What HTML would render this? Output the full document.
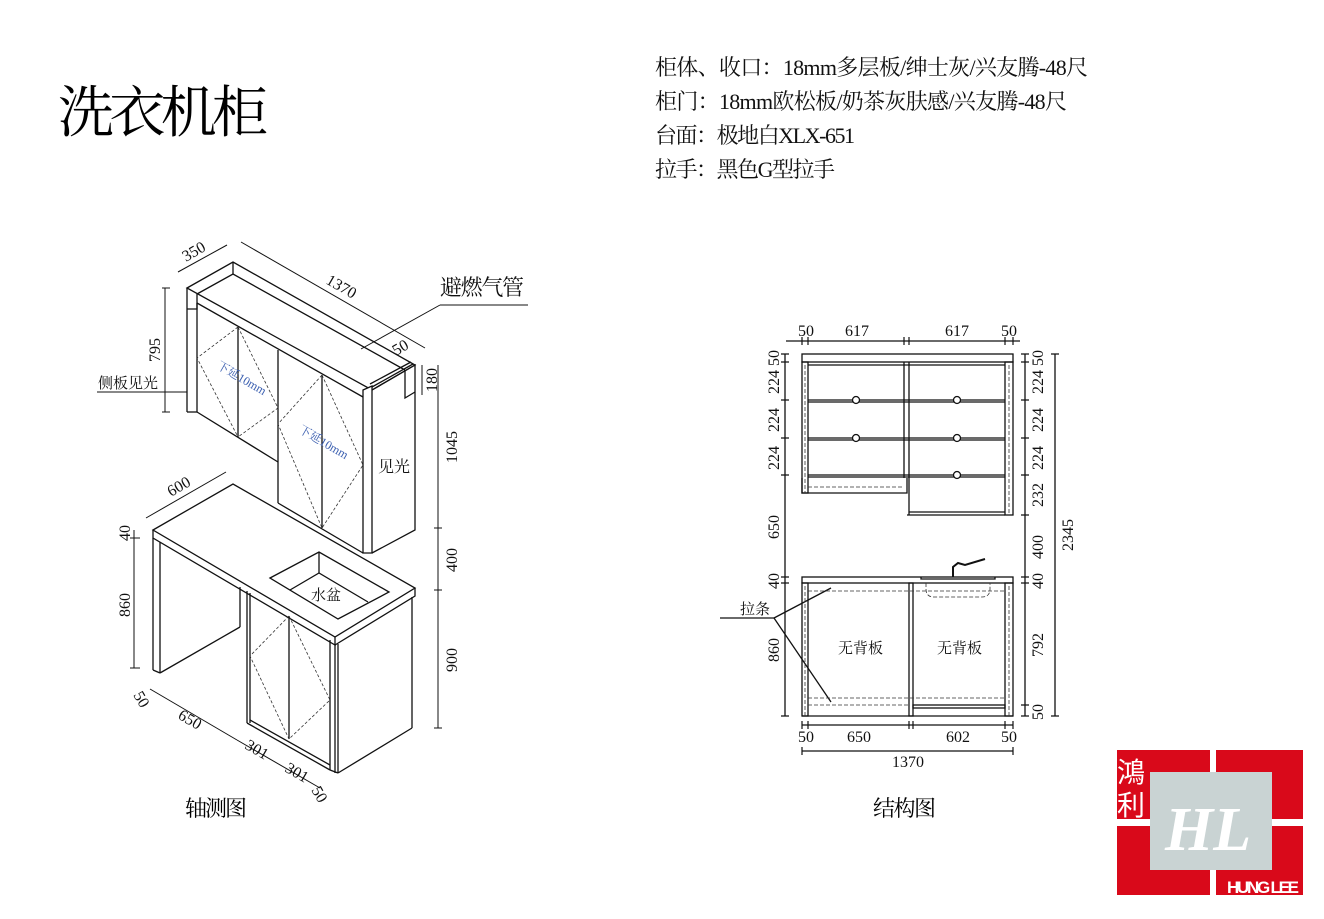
<!DOCTYPE html>
<html><head><meta charset="utf-8"><style>
html,body{margin:0;padding:0;background:#fff;}
svg{display:block;font-family:"Liberation Serif","Noto Serif CJK SC",serif;}
</style></head><body>
<svg width="1324" height="919" viewBox="0 0 1324 919" xmlns="http://www.w3.org/2000/svg">
<rect width="1324" height="919" fill="#fff"/>
<!-- Titles -->
<text x="58" y="132" font-size="56" font-family="Liberation Serif,Noto Serif CJK SC,serif" textLength="210">洗衣机柜</text>
<g font-size="22" fill="#111">
<text x="655" y="75" textLength="433">柜体、收口：18mm多层板/绅士灰/兴友腾-48尺</text>
<text x="655" y="109" textLength="412">柜门：18mm欧松板/奶茶灰肤感/兴友腾-48尺</text>
<text x="655" y="143" textLength="200">台面：极地白XLX-651</text>
<text x="655" y="177" textLength="180">拉手：黑色G型拉手</text>
</g>
<text x="185" y="816" font-size="22" textLength="62">轴测图</text>
<text x="873" y="816" font-size="22" textLength="63">结构图</text>

<!-- ===== Axonometric ===== -->
<g stroke="#111" stroke-width="1.3" fill="none">
<polygon points="187,288 233,262 415,365 372,390" fill="#fff"/>
<polyline points="197,294 233,274 405,370"/>
<line x1="233" y1="262" x2="233" y2="274"/>
<polyline points="197,294 197,309 187,309"/>
<line x1="197" y1="303" x2="363" y2="397"/>
<line x1="187" y1="288" x2="187" y2="412"/>
<line x1="197" y1="303" x2="197" y2="412"/>
<line x1="187" y1="412" x2="197" y2="412"/>
<polyline points="197,412 278,462"/>
<line x1="238" y1="327" x2="238" y2="437"/>
<line x1="278" y1="350" x2="278" y2="503"/>
<line x1="322" y1="375" x2="322" y2="528"/>
<line x1="278" y1="503" x2="363" y2="553"/>
<polygon points="363,390 372,386 372,553 363,553" fill="#fff"/>
<polyline points="372,390 415,365 415,530 372,553"/>
<line x1="372" y1="387" x2="413" y2="364"/>
<line x1="370" y1="384" x2="411" y2="362"/>
<polyline points="405,370 405,398 415,392"/>
<polygon points="153,530 233,484 415,588 335,637" fill="#fff"/>
<polyline points="153,530 153,538 335,645 335,637"/>
<polyline points="335,645 415,596 415,588"/>
<polygon points="270,578 319,552 389,592 338,619"/>
<polyline points="290,590 319,573 368,602"/>
<line x1="319" y1="552" x2="319" y2="573"/>
<line x1="153" y1="538" x2="153" y2="670"/>
<line x1="160" y1="542" x2="160" y2="673"/>
<line x1="153" y1="670" x2="160" y2="673"/>
<line x1="160" y1="673" x2="240" y2="627"/>
<line x1="240" y1="587" x2="240" y2="627"/>
<line x1="247" y1="591" x2="247" y2="723"/>
<line x1="250" y1="593" x2="250" y2="723"/>
<line x1="289" y1="616" x2="289" y2="739"/>
<line x1="247" y1="723" x2="330" y2="770"/>
<line x1="250" y1="720" x2="330" y2="765"/>
<line x1="330" y1="640" x2="330" y2="770"/>
<line x1="335" y1="645" x2="335" y2="773"/>
<line x1="338" y1="644" x2="338" y2="773"/>
<line x1="330" y1="770" x2="338" y2="773"/>
<line x1="338" y1="773" x2="412" y2="728"/>
<line x1="412" y1="597" x2="412" y2="728"/>
</g>
<g stroke="#333" stroke-width="0.8" stroke-dasharray="3,2" fill="none">
<polyline points="238,327 197,358 238,437"/>
<polyline points="238,327 278,408 238,437"/>
<polyline points="322,375 278,424 322,528"/>
<polyline points="322,375 363,465 322,528"/>
<polyline points="289,616 250,656 289,739"/>
<polyline points="289,616 330,700 289,739"/>
</g>
<g stroke="#111" stroke-width="1" fill="none">
<line x1="178" y1="272" x2="227" y2="245"/>
<line x1="241" y1="242" x2="425" y2="348"/>
<line x1="165" y1="288" x2="165" y2="412"/>
<line x1="162" y1="288" x2="170" y2="288"/><line x1="162" y1="412" x2="170" y2="412"/>
<line x1="97" y1="392" x2="187" y2="392"/>
<line x1="422" y1="365" x2="422" y2="395"/>
<line x1="438" y1="365" x2="438" y2="728"/>
<line x1="434" y1="528" x2="442" y2="528"/><line x1="434" y1="590" x2="442" y2="590"/><line x1="434" y1="728" x2="442" y2="728"/>
<line x1="146" y1="518" x2="226" y2="472"/>
<line x1="134" y1="530" x2="134" y2="668"/>
<line x1="130" y1="668" x2="140" y2="668"/><line x1="130" y1="538" x2="140" y2="538"/>
<line x1="150" y1="689" x2="237" y2="740"/>
<line x1="237" y1="740" x2="320" y2="788"/>
<line x1="361" y1="349" x2="440" y2="305"/>
<line x1="440" y1="305" x2="528" y2="305"/>
</g>
<g font-size="16" fill="#111">
<text x="440" y="295" font-size="22" textLength="84">避燃气管</text>
<text x="98" y="388" font-size="15">侧板见光</text>
<text x="378" y="472" font-size="16">见光</text>
<text x="311" y="600" font-size="15">水盆</text>
<text transform="translate(186,262) rotate(-30)">350</text>
<text transform="translate(325,283) rotate(30)">1370</text>
<text transform="translate(396,356) rotate(-30)">50</text>
<text transform="translate(437,392) rotate(-90)">180</text>
<text transform="translate(160,362) rotate(-90)">795</text>
<text transform="translate(457,463) rotate(-90)">1045</text>
<text transform="translate(457,572) rotate(-90)">400</text>
<text transform="translate(457,672) rotate(-90)">900</text>
<text transform="translate(171,497) rotate(-30)">600</text>
<text transform="translate(130,541) rotate(-90)">40</text>
<text transform="translate(130,617) rotate(-90)">860</text>
<text transform="translate(133,695) rotate(60)">50</text>
<text transform="translate(177,718) rotate(30)">650</text>
<text transform="translate(244,748) rotate(30)">301</text>
<text transform="translate(284,771) rotate(30)">301</text>
<text transform="translate(311,790) rotate(60)">50</text>
<text transform="translate(216,368) rotate(30)" font-size="12" fill="#3b5fb0">下延10mm</text>
<text transform="translate(298,432) rotate(30)" font-size="12" fill="#3b5fb0">下延10mm</text>
</g>

<!-- ===== Structure drawing ===== -->
<g stroke="#111" stroke-width="1.3" fill="none">
<rect x="802" y="354" width="211" height="8"/>
<line x1="808" y1="365" x2="1005" y2="365"/>
<rect x="802" y="362" width="6" height="131"/>
<rect x="1005" y="362" width="8" height="153"/>
<line x1="904" y1="362" x2="904" y2="478"/>
<line x1="909" y1="362" x2="909" y2="515"/>
<line x1="808" y1="400" x2="1005" y2="400"/><line x1="808" y1="402" x2="1005" y2="402"/>
<line x1="808" y1="438" x2="1005" y2="438"/><line x1="808" y1="440" x2="1005" y2="440"/>
<line x1="808" y1="475" x2="1005" y2="475"/><line x1="808" y1="477" x2="1005" y2="477"/>
<polyline points="802,478 802,493 907,493 907,478"/>
<polyline points="907,515 1005,515"/><line x1="909" y1="512" x2="1005" y2="512"/>
<circle cx="856" cy="400" r="3.5" fill="#fff"/><circle cx="856" cy="438" r="3.5" fill="#fff"/>
<circle cx="957" cy="400" r="3.5" fill="#fff"/><circle cx="957" cy="438" r="3.5" fill="#fff"/><circle cx="957" cy="475" r="3.5" fill="#fff"/>
<rect x="802" y="577" width="211" height="6"/>
<rect x="802" y="583" width="6" height="133"/>
<rect x="1005" y="583" width="8" height="133"/>
<line x1="802" y1="716" x2="1013" y2="716"/>
<rect x="909" y="583" width="4" height="133"/>
<rect x="913" y="705" width="92" height="3"/>
<path d="M921 577 L921 579 L995 579 L995 577"/>
<path d="M953 577 L953 567 L958 563 L965 565 L985 559" stroke-width="2"/>
<line x1="786" y1="341" x2="1020" y2="341"/>
<line x1="785" y1="354" x2="785" y2="716"/>
<line x1="1025" y1="354" x2="1025" y2="716"/>
<line x1="1055" y1="354" x2="1055" y2="716"/>
<line x1="802" y1="725" x2="1013" y2="725"/>
<line x1="802" y1="751" x2="1013" y2="751"/>
<line x1="720" y1="618" x2="774" y2="618"/>
<line x1="774" y1="618" x2="831" y2="588"/>
<line x1="774" y1="618" x2="831" y2="702"/>
</g>
<g stroke="#111" stroke-width="1.2">
<path d="M781 354h8M781 362h8M781 400h8M781 438h8M781 475h8M781 577h8M781 583h8M781 716h8
M1021 354h8M1021 362h8M1021 400h8M1021 438h8M1021 475h8M1021 515h8M1021 577h8M1021 583h8M1021 705h8M1021 716h8
M1051 354h8M1051 716h8
M802 337v8M808 337v8M904 337v8M909 337v8M1005 337v8M1013 337v8
M802 721v8M808 721v8M909 721v8M913 721v8M1005 721v8M1013 721v8M802 747v8M1013 747v8"/>
</g>
<g stroke="#333" stroke-width="0.8" stroke-dasharray="4,2" fill="none">
<line x1="805" y1="365" x2="805" y2="493"/>
<line x1="1009" y1="365" x2="1009" y2="515"/>
<line x1="805" y1="586" x2="805" y2="716"/>
<line x1="1009" y1="586" x2="1009" y2="716"/>
<line x1="808" y1="487" x2="904" y2="487"/>
<line x1="808" y1="591" x2="1005" y2="591"/>
<line x1="808" y1="698" x2="1005" y2="698"/>
<line x1="808" y1="705" x2="909" y2="705"/>
<path d="M926 583 v6 q0 8 8 8 h48 q8 0 8 -8 v-6"/>
</g>
<g font-size="16" fill="#111">
<text x="798" y="336">50</text><text x="845" y="336">617</text><text x="945" y="336">617</text><text x="1001" y="336">50</text>
<text x="798" y="742">50</text><text x="847" y="742">650</text><text x="946" y="742">602</text><text x="1001" y="742">50</text>
<text x="892" y="767">1370</text>
<text x="740" y="614" font-size="15">拉条</text>
<text x="838" y="653" font-size="15">无背板</text><text x="937" y="653" font-size="15">无背板</text>
<g transform="translate(779,0)">
<text transform="translate(0,366) rotate(-90)">50</text>
<text transform="translate(0,394) rotate(-90)">224</text>
<text transform="translate(0,432) rotate(-90)">224</text>
<text transform="translate(0,470) rotate(-90)">224</text>
<text transform="translate(0,539) rotate(-90)">650</text>
<text transform="translate(0,589) rotate(-90)">40</text>
<text transform="translate(0,662) rotate(-90)">860</text>
</g>
<g transform="translate(1043,0)">
<text transform="translate(0,366) rotate(-90)">50</text>
<text transform="translate(0,394) rotate(-90)">224</text>
<text transform="translate(0,432) rotate(-90)">224</text>
<text transform="translate(0,470) rotate(-90)">224</text>
<text transform="translate(0,507) rotate(-90)">232</text>
<text transform="translate(0,559) rotate(-90)">400</text>
<text transform="translate(0,589) rotate(-90)">40</text>
<text transform="translate(0,657) rotate(-90)">792</text>
<text transform="translate(0,720) rotate(-90)">50</text>
</g>
<text transform="translate(1073,551) rotate(-90)">2345</text>
</g>

<!-- ===== Logo ===== -->
<g>
<rect x="1117" y="750" width="186" height="145" fill="#d9091a"/>
<rect x="1210" y="750" width="6" height="145" fill="#fff"/>
<rect x="1117" y="819" width="186" height="7" fill="#fff"/>
<rect x="1150" y="772" width="122" height="98" fill="#c9d3d3"/>
<text x="1165" y="850" font-size="62" font-style="italic" font-weight="bold" fill="#fff" font-family="Liberation Serif,serif">HL</text>
<text x="1117" y="782" font-size="28" fill="#fff" font-family="Liberation Sans,Noto Sans CJK TC,sans-serif">鴻</text>
<text x="1117" y="815" font-size="28" fill="#fff" font-family="Liberation Sans,Noto Sans CJK TC,sans-serif">利</text>
<text x="1227" y="893" font-size="17" font-weight="bold" fill="#fff" font-family="Liberation Sans,sans-serif" textLength="72">HUNG LEE</text>
</g>
</svg>
</body></html>
